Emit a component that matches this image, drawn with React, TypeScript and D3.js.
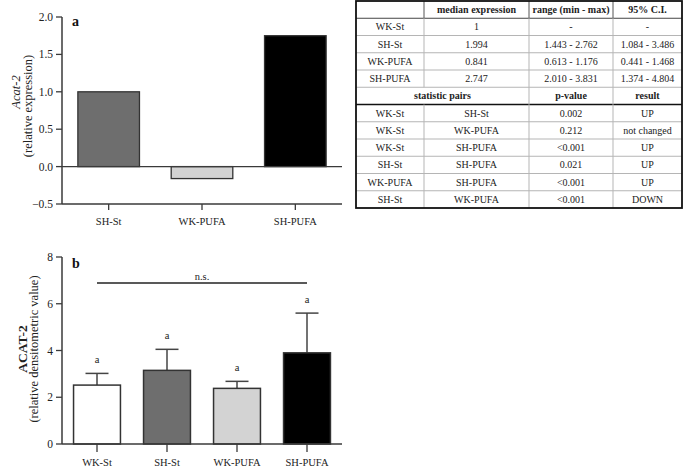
import React from "react";
import * as d3 from "d3";

// ---- Panel a data ----
const groupsA = ["SH-St", "WK-PUFA", "SH-PUFA"];
const valuesA = [1.0, -0.16, 1.75];
const ticksA = [-0.5, 0, 0.5, 1.0, 1.5, 2.0];

// ---- Panel b data ----
const groupsB = ["WK-St", "SH-St", "WK-PUFA", "SH-PUFA"];
const meansB = [2.52, 3.15, 2.38, 3.9];
const errorsB = [0.5, 0.9, 0.3, 1.7];
const lettersB = ["a", "a", "a", "a"];
const ticksB = [0, 2, 4, 6, 8];

// ---- Table data ----
const tableGroups = ["WK-St", "SH-St", "WK-PUFA", "SH-PUFA"];
const medianExpr = ["1", "1.994", "0.841", "2.747"];
const rangeMinMax = ["-", "1.443 - 2.762", "0.613 - 1.176", "2.010 - 3.831"];
const ci95 = ["-", "1.084 - 3.486", "0.441 - 1.468", "1.374 - 4.804"];
const headerTop = ["", "median expression", "range (min - max)", "95% C.I."];
const headerStats = ["statistic pairs", "p-value", "result"];
const pairFirst = ["WK-St", "WK-St", "WK-St", "SH-St", "WK-PUFA", "SH-St"];
const pairSecond = ["SH-St", "WK-PUFA", "SH-PUFA", "SH-PUFA", "SH-PUFA", "WK-PUFA"];
const pValues = ["0.002", "0.212", "<0.001", "0.021", "<0.001", "<0.001"];
const results = ["UP", "not changed", "UP", "UP", "UP", "DOWN"];

const fills: Record<string, string> = {
  "WK-St": "#ffffff",
  "SH-St": "#6e6e6e",
  "WK-PUFA": "#d3d3d3",
  "SH-PUFA": "#000000",
};

const FONT = "'Liberation Serif', 'Times New Roman', serif";
const AX = "#3a3a3a";

function PanelA() {
  const x = d3.scaleBand<string>().domain(groupsA).range([62, 342]).paddingInner(0.34).paddingOuter(0.17);
  const y = d3.scaleLinear().domain([-0.5, 2]).range([204, 17]);
  const fmt = d3.format(".1f");
  return (
    <g>
      {groupsA.map((g, i) => {
        const v = valuesA[i];
        return (
          <rect key={g} x={x(g)} y={y(Math.max(0, v))} width={x.bandwidth()}
            height={Math.abs(y(v) - y(0))} fill={fills[g]} stroke="#333" strokeWidth={1.3} />
        );
      })}
      <line x1={62} x2={342} y1={y(0)} y2={y(0)} stroke={AX} strokeWidth={1.3} />
      <line x1={62} x2={62} y1={y(2)} y2={y(-0.5)} stroke={AX} strokeWidth={1.5} />
      {ticksA.map((t) => (
        <g key={t}>
          <line x1={56} x2={62} y1={y(t)} y2={y(t)} stroke={AX} strokeWidth={1.3} />
          <text x={53} y={y(t)} dy="0.35em" textAnchor="end" fontSize={11.5} fontFamily={FONT} fill="#222">{fmt(t)}</text>
        </g>
      ))}
      <line x1={62} x2={342} y1={y(-0.5)} y2={y(-0.5)} stroke={AX} strokeWidth={1.5} />
      {groupsA.map((g) => {
        const cx = (x(g) as number) + x.bandwidth() / 2;
        return (
          <g key={g}>
            <line x1={cx} x2={cx} y1={y(-0.5)} y2={y(-0.5) + 6} stroke={AX} strokeWidth={1.3} />
            <text x={cx} y={225} textAnchor="middle" fontSize={10.5} fontFamily={FONT} fill="#222">{g}</text>
          </g>
        );
      })}
      <text x={72} y={26} fontSize={14} fontWeight="bold" fontFamily={FONT} fill="#111">a</text>
      <text transform="translate(20,92) rotate(-90)" textAnchor="middle" fontSize={12.5} fontStyle="italic" fontFamily={FONT} fill="#222">Acat-2</text>
      <text transform="translate(32,106) rotate(-90)" textAnchor="middle" fontSize={12.5} fontFamily={FONT} fill="#222">(relative expression)</text>
    </g>
  );
}

function PanelB() {
  const x = d3.scaleBand<string>().domain(groupsB).range([62, 342]).paddingInner(0.33).paddingOuter(0.165);
  const y = d3.scaleLinear().domain([0, 8]).range([444, 257]);
  const capW = 23;
  return (
    <g>
      {groupsB.map((g, i) => {
        const cx = (x(g) as number) + x.bandwidth() / 2;
        const top = meansB[i] + errorsB[i];
        return (
          <g key={g}>
            <line x1={cx} x2={cx} y1={y(meansB[i])} y2={y(top)} stroke="#444" strokeWidth={1.5} />
            <line x1={cx - capW / 2} x2={cx + capW / 2} y1={y(top)} y2={y(top)} stroke="#444" strokeWidth={1.5} />
            <rect x={x(g)} y={y(meansB[i])} width={x.bandwidth()} height={y(0) - y(meansB[i])}
              fill={fills[g]} stroke="#333" strokeWidth={1.5} />
            <text x={cx} y={y(top) - 10} textAnchor="middle" fontSize={10.5} fontFamily={FONT} fill="#222">{lettersB[i]}</text>
          </g>
        );
      })}
      <line x1={62} x2={62} y1={y(8)} y2={y(0)} stroke={AX} strokeWidth={1.5} />
      {ticksB.map((t) => (
        <g key={t}>
          <line x1={56} x2={62} y1={y(t)} y2={y(t)} stroke={AX} strokeWidth={1.3} />
          <text x={53} y={y(t)} dy="0.35em" textAnchor="end" fontSize={11.5} fontFamily={FONT} fill="#222">{t}</text>
        </g>
      ))}
      <line x1={62} x2={342} y1={y(0)} y2={y(0)} stroke={AX} strokeWidth={1.5} />
      {groupsB.map((g) => {
        const cx = (x(g) as number) + x.bandwidth() / 2;
        return (
          <g key={g}>
            <line x1={cx} x2={cx} y1={y(0)} y2={y(0) + 8} stroke={AX} strokeWidth={1.3} />
            <text x={cx} y={466} textAnchor="middle" fontSize={10.5} fontFamily={FONT} fill="#222">{g}</text>
          </g>
        );
      })}
      {(() => {
        const x1 = (x(groupsB[0]) as number) + x.bandwidth() / 2;
        const x2 = (x(groupsB[3]) as number) + x.bandwidth() / 2;
        return (
          <g>
            <line x1={x1} x2={x2} y1={283} y2={283} stroke="#222" strokeWidth={1.5} />
            <text x={(x1 + x2) / 2} y={280} textAnchor="middle" fontSize={10.5} fontFamily={FONT} fill="#222">n.s.</text>
          </g>
        );
      })()}
      <text x={72} y={268} fontSize={14} fontWeight="bold" fontFamily={FONT} fill="#111">b</text>
      <text transform="translate(27,349) rotate(-90)" textAnchor="middle" fontSize={13.5} fontWeight="bold" fontFamily={FONT} fill="#222">ACAT-2</text>
      <text transform="translate(38,349) rotate(-90)" textAnchor="middle" fontSize={12.5} fontFamily={FONT} fill="#222">(relative densitometric value)</text>
    </g>
  );
}

function Table() {
  const left = 356, right = 682, top = 1, bottom = 208;
  const nRows = 12;
  const rh = (bottom - top) / nRows;
  const colX = [left, 424, 529, 613, right];
  const cx = (i: number) => (colX[i] + colX[i + 1]) / 2;
  const rowY = (r: number) => top + r * rh;
  const textY = (r: number) => rowY(r) + rh / 2;
  const fs = 10;
  const gridC = "#b5b5b5";
  const lines: JSX.Element[] = [];
  for (let r = 1; r < nRows; r++) {
    const strong = r === 1 || r === 6;
    lines.push(
      <line key={"h" + r} x1={left} x2={right} y1={rowY(r)} y2={rowY(r)}
        stroke={strong ? (r === 6 ? "#111" : "#444") : gridC} strokeWidth={r === 6 ? 1.6 : 1} />
    );
  }
  for (let c = 1; c < 4; c++) {
    for (let r = 0; r < nRows; r++) {
      if (r === 5 && c === 1) continue;
      lines.push(
        <line key={"v" + c + "-" + r} x1={colX[c]} x2={colX[c]} y1={rowY(r)} y2={rowY(r + 1)}
          stroke={r === 0 ? "#555" : gridC} strokeWidth={1} />
      );
    }
  }
  const txt = (x: number, y: number, s: string, bold = false, key?: string) => (
    <text key={key} x={x} y={y} dy="0.35em" textAnchor="middle" fontSize={fs}
      fontWeight={bold ? "bold" : "normal"} fontFamily={FONT} fill="#222">{s}</text>
  );
  return (
    <g>
      <rect x={left} y={top} width={right - left} height={bottom - top} fill="#fff" stroke="none" />
      {lines}
      <rect x={left} y={top} width={right - left} height={bottom - top} fill="none" stroke="#111" strokeWidth={1.8} />
      {headerTop.map((h, i) => txt(cx(i), textY(0), h, true, "ht" + i))}
      {tableGroups.map((g, i) => (
        <g key={"tg" + i}>
          {txt(cx(0), textY(i + 1), g)}
          {txt(cx(1), textY(i + 1), medianExpr[i])}
          {txt(cx(2), textY(i + 1), rangeMinMax[i])}
          {txt(cx(3), textY(i + 1), ci95[i])}
        </g>
      ))}
      {txt((colX[0] + colX[2]) / 2, textY(5), headerStats[0], true, "hs0")}
      {txt(cx(2), textY(5), headerStats[1], true, "hs1")}
      {txt(cx(3), textY(5), headerStats[2], true, "hs2")}
      {pairFirst.map((p, i) => (
        <g key={"ps" + i}>
          {txt(cx(0), textY(i + 6), p)}
          {txt(cx(1), textY(i + 6), pairSecond[i])}
          {txt(cx(2), textY(i + 6), pValues[i])}
          {txt(cx(3), textY(i + 6), results[i])}
        </g>
      ))}
    </g>
  );
}

export default function App() {
  return (
    <svg width={685} height={468} style={{ position: "absolute", left: 0, top: 0, background: "#fff" }}>
      <rect x={0} y={0} width={685} height={468} fill="#fff" />
      <PanelA />
      <PanelB />
      <Table />
    </svg>
  );
}
